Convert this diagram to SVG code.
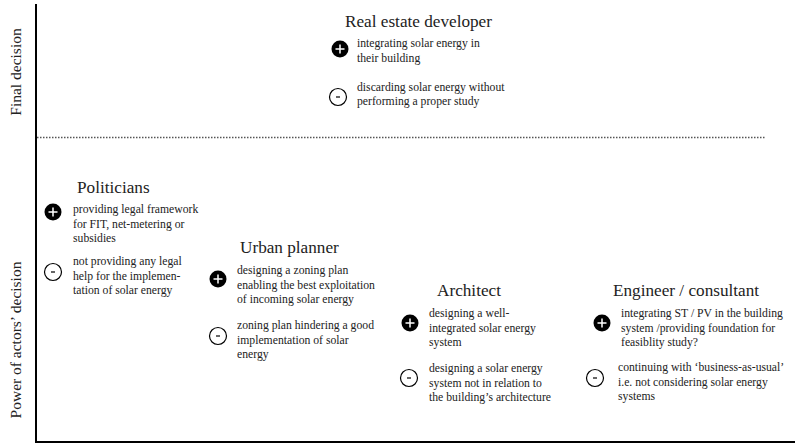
<svg xmlns="http://www.w3.org/2000/svg" width="795" height="444" viewBox="0 0 795 444">
<defs>
<style>
text{font-family:"Liberation Serif","DejaVu Serif",serif;fill:#222}
.t{font-size:17.2px}
.b{font-size:11.7px}
.ax{font-size:15.5px;fill:#222}
.pc{fill:#000}
.mc{fill:#fff;stroke:#000;stroke-width:1.2}
.sg{stroke:#fff;stroke-width:1.5;fill:none}
.sm{stroke:#000;stroke-width:1.2;fill:none}
</style>
<g id="plus"><circle class="pc" r="8.5"/><path class="sg" d="M-4.5 0H4.5M0 -4.5V4.5"/></g>
<g id="minus"><circle class="mc" r="8.5"/><path class="sm" d="M-2 0H2"/></g>
</defs>
<g id="axes">
<line x1="36" y1="4" x2="36" y2="443" stroke="#000" stroke-width="2"/>
<line x1="35" y1="442" x2="795" y2="442" stroke="#000" stroke-width="2"/>
<line x1="37" y1="137.5" x2="766" y2="137.5" stroke="#555" stroke-width="1.3" stroke-dasharray="1.5 1.5"/>
<text class="ax" transform="translate(21,72) rotate(-90)" text-anchor="middle">Final decision</text>
<text class="ax" transform="translate(21,340) rotate(-90)" text-anchor="middle">Power of actors’ decision</text>
</g>
<g id="real-estate-developer">
<text class="t" x="345" y="27">Real estate developer</text>
<use href="#plus" x="340" y="49"/>
<text class="b" x="357" y="47">integrating solar energy in</text>
<text class="b" x="357" y="62">their building</text>
<use href="#minus" x="338" y="97"/>
<text class="b" x="357" y="91">discarding solar energy without</text>
<text class="b" x="357" y="105">performing a proper study</text>
</g>
<g id="politicians">
<text class="t" x="77" y="193">Politicians</text>
<use href="#plus" x="53" y="212"/>
<text class="b" x="73" y="213">providing legal framework</text>
<text class="b" x="73" y="228">for FIT, net-metering or</text>
<text class="b" x="73" y="242">subsidies</text>
<use href="#minus" x="53" y="272"/>
<text class="b" x="73" y="265">not providing any legal</text>
<text class="b" x="73" y="280">help for the implemen-</text>
<text class="b" x="73" y="294">tation of solar energy</text>
</g>
<g id="urban-planner">
<text class="t" x="240" y="253">Urban planner</text>
<use href="#plus" x="218" y="279"/>
<text class="b" x="237" y="274">designing a zoning plan</text>
<text class="b" x="237" y="289">enabling the best exploitation</text>
<text class="b" x="237" y="303">of incoming solar energy</text>
<use href="#minus" x="218" y="336"/>
<text class="b" x="237" y="329">zoning plan hindering a good</text>
<text class="b" x="237" y="344">implementation of solar</text>
<text class="b" x="237" y="358">energy</text>
</g>
<g id="architect">
<text class="t" x="437" y="296">Architect</text>
<use href="#plus" x="410" y="323"/>
<text class="b" x="429" y="317">designing a well-</text>
<text class="b" x="429" y="332">integrated solar energy</text>
<text class="b" x="429" y="346">system</text>
<use href="#minus" x="409" y="378"/>
<text class="b" x="429" y="372">designing a solar energy</text>
<text class="b" x="429" y="387">system not in relation to</text>
<text class="b" x="429" y="401">the building’s architecture</text>
</g>
<g id="engineer-consultant">
<text class="t" x="613" y="296">Engineer / consultant</text>
<use href="#plus" x="602" y="323"/>
<text class="b" x="621" y="317">integrating ST / PV in the building</text>
<text class="b" x="621" y="332">system /providing foundation for</text>
<text class="b" x="621" y="346">feasiblity study?</text>
<use href="#minus" x="595" y="378"/>
<text class="b" x="618" y="371">continuing with ‘business-as-usual’</text>
<text class="b" x="618" y="386">i.e. not considering solar energy</text>
<text class="b" x="618" y="400">systems</text>
</g>
</svg>
